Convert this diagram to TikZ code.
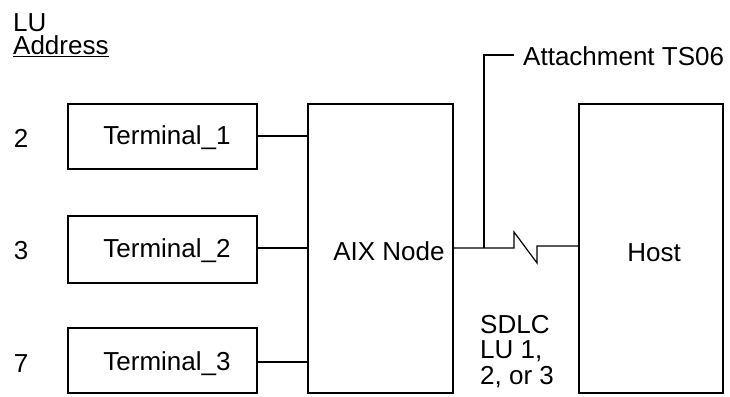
\documentclass[tikz,border=0pt]{standalone}
\usepackage{fontspec}
\setmainfont{Liberation Sans}
\begin{document}
\begin{tikzpicture}[x=1pt,y=-1pt,
  box/.style={draw, line width=1.8pt, inner sep=0pt, anchor=north west},
  wire/.style={line width=1.2pt},
  lbl/.style={inner sep=0pt, font=\fontsize{26}{27}\selectfont}]
\useasboundingbox (0,0) rectangle (730,396);
% boxes
\node[box, minimum width=189pt, minimum height=65pt] (t1) at (67,103) {};
\node[box, minimum width=189pt, minimum height=67pt] (t2) at (67,215) {};
\node[box, minimum width=189pt, minimum height=65pt] (t3) at (67,327) {};
\node[box, minimum width=145pt, minimum height=289pt] (aix) at (307,103) {};
\node[box, minimum width=144pt, minimum height=289pt] (host) at (578,103) {};
% box texts
\node[lbl] (t1t) at (167,138) {Terminal\_1};
\node[lbl] (t2t) at (167,251) {Terminal\_2};
\node[lbl] (t3t) at (167,364) {Terminal\_3};
\node[lbl] (aixt) at (389,251) {AIX Node};
\node[lbl] (hostt) at (654,253) {Host};
% LU addresses
\node[lbl, anchor=north west, align=left, font=\fontsize{26}{23.5}\selectfont] (lu) at (13,13) {LU\\\underline{Address}};
\node[lbl] (n2) at (21,138) {2};
\node[lbl] (n3) at (21,251) {3};
\node[lbl] (n7) at (21,364) {7};
% terminal connectors
\draw[wire] (t1.east |- 0,136) -- (aix.west |- 0,136);
\draw[wire] (t2.east |- 0,248) -- (aix.west |- 0,248);
\draw[wire] (t3.east |- 0,362) -- (aix.west |- 0,362);
% SDLC link with break
\coordinate (tap) at (484,248);
\coordinate (tapTop) at (484,55);
\coordinate (tapEnd) at (514,55);
\draw[wire] (aix.east |- 0,248) -- (tap) -- (514,248) -- (514,232) -- (537,263) -- (537,246) -- (host.west |- 0,246);
\draw[wire] (tap) -- (tapTop) -- (tapEnd);
\node[lbl, anchor=west] (att) at (523,56) {Attachment TS06};
% SDLC label
\node[lbl, anchor=north west, align=left, font=\fontsize{26}{25.5}\selectfont] (sdlc) at (480,315) {SDLC\\LU 1,\\2, or 3};
\end{tikzpicture}
\end{document}
